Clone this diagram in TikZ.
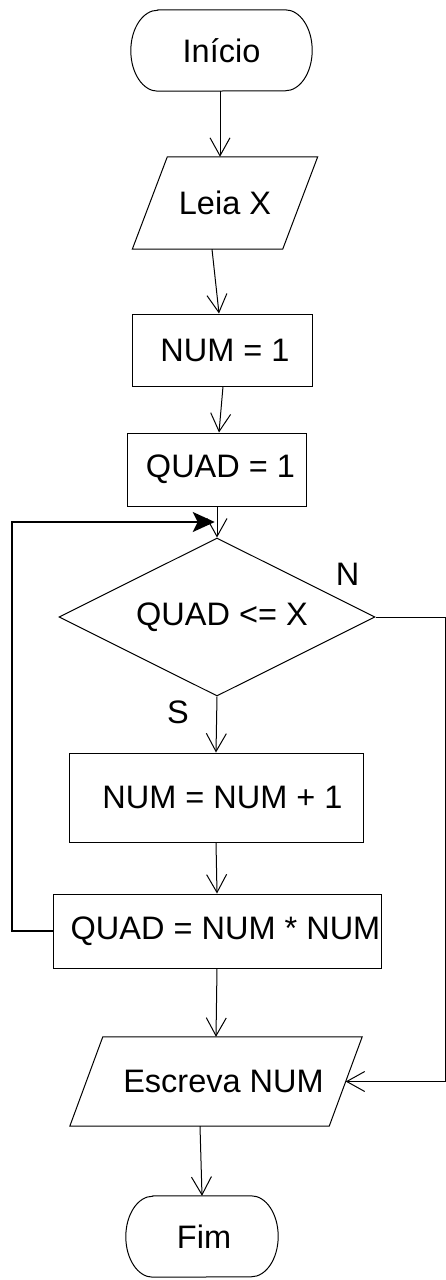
\documentclass[tikz,border=0pt]{standalone}
\usepackage{fontspec}
\setmainfont{Liberation Sans}
\usetikzlibrary{arrows.meta,shapes.geometric,calc}

% parallelogram drawn round an invisible body node: #1 node name, #2 half slant
\newcommand{\slantbox}[2]{%
  \draw[outline] ([xshift=#2]#1.north west) -- ([xshift=#2]#1.north east)
    -- ([xshift=-#2]#1.south east) -- ([xshift=-#2]#1.south west) -- cycle;}
% terminal with elliptical ends: #1 node name, #2 horizontal radius of the ends
\newcommand{\capsule}[2]{%
  \draw[outline] ([xshift=#2]#1.north west) -- ([xshift=-#2]#1.north east)
    arc[start angle=90,end angle=-90,x radius=#2,y radius=40.5pt]
    -- ([xshift=#2]#1.south west)
    arc[start angle=270,end angle=90,x radius=#2,y radius=40.5pt] -- cycle;}

\begin{document}
\begin{tikzpicture}[x=1pt,y=-1pt,
  outline/.style={draw=black,line width=1pt},
  every node/.style={font=\fontsize{32.5}{39}\selectfont,inner sep=0pt},
  flow/.style={line width=1pt,-{Straight Barb[length=18pt,width=20pt]}},
  back/.style={line width=2pt,-{Stealth[length=22pt,width=20pt,inset=5pt]}}]
\useasboundingbox (0,0) rectangle (446,1280);

% shapes
\node[minimum width=181pt,minimum height=81pt] (ini) at (221.5,50.5) {Início};
\capsule{ini}{27pt}
\node[minimum width=150pt,minimum height=92pt] (leia) at (225,203) {Leia X};
\slantbox{leia}{17.5pt}
\node[outline,minimum width=180pt,minimum height=72pt] (num1) at (222,350) {\hspace*{6pt}NUM = 1};
\node[outline,minimum width=179pt,minimum height=73pt] (quad1) at (216.5,469.5) {\hspace*{8pt}QUAD = 1};
\node[outline,diamond,shape aspect=2,minimum width=316pt,minimum height=158pt] (dec) at (217,617) {\hspace*{10pt}QUAD <= X};
\node[outline,minimum width=294pt,minimum height=89pt] (inc) at (216,797.5) {\hspace*{13pt}NUM = NUM + 1};
\node[outline,minimum width=328pt,minimum height=74pt] (sq) at (217,931) {\hspace*{17pt}QUAD = NUM * NUM};
\node[minimum width=259pt,minimum height=89pt] (esc) at (216,1081.5) {\hspace*{15pt}Escreva NUM};
\slantbox{esc}{16.5pt}
\node[minimum width=152pt,minimum height=81pt] (fim) at (202,1236.5) {\hspace*{4pt}Fim};
\capsule{fim}{27pt}

% branch labels
\node (lN) at (347.5,574.5) {N};
\node (lS) at (178,712) {S};

% main flow
\draw[flow] ([xshift=-1.5pt]ini.south) -- ([xshift=-5pt]leia.north);
\draw[flow] ([xshift=-13pt]leia.south) -- ([xshift=-3pt]num1.north);
\draw[flow] ([xshift=1pt]num1.south) -- ([xshift=2.5pt]quad1.north);
\draw[flow] ([xshift=0.5pt]quad1.south) -- (dec.north);
\draw[flow] (dec.south) -- (inc.north);
\draw[flow] (inc.south) -- (sq.north);
\draw[flow] (sq.south) -- (esc.north);
\draw[flow] ([xshift=-16pt]esc.south) -- (fim.north);

% loop back to the test
\coordinate (join) at ($(quad1.south)!0.5!(dec.north)$);
\draw[back] (sq.west) -- ++(-41,0) |- ([xshift=-2pt]join);

% exit when the test fails
\draw[flow] (dec.east) -- ++(70,0) |- (esc.east);
\end{tikzpicture}
\end{document}
